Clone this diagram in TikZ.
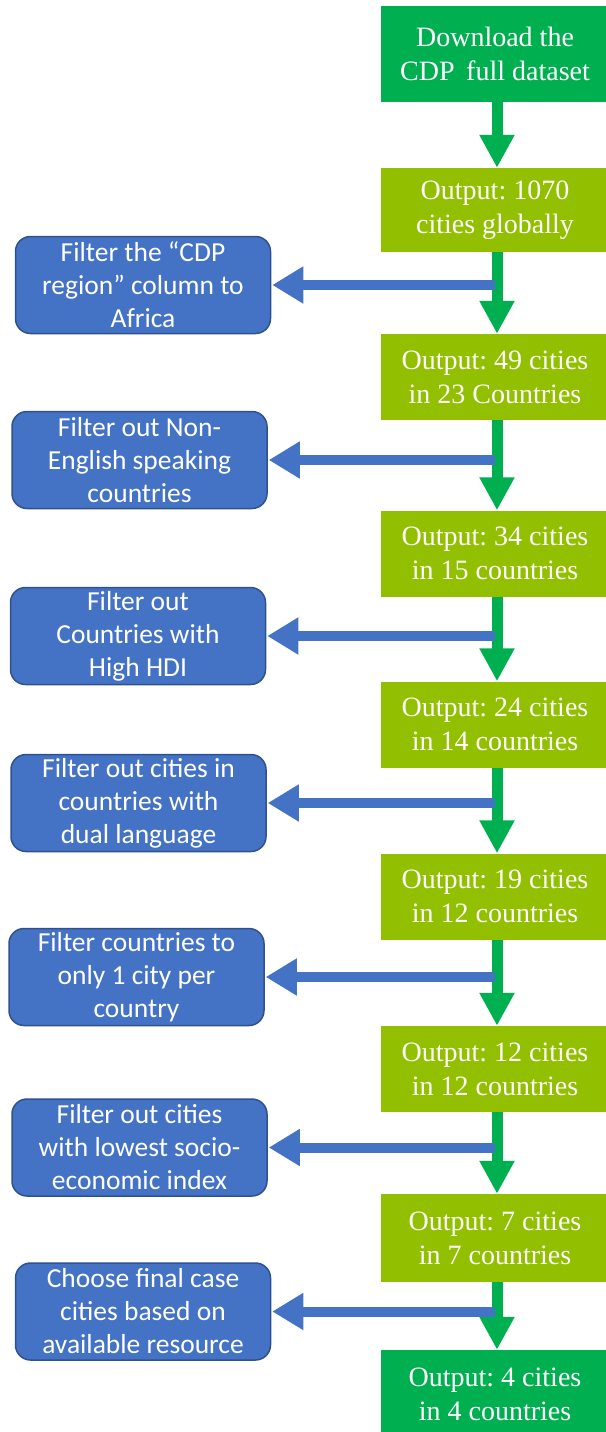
\documentclass[tikz,border=0pt]{standalone}
\usepackage{fontspec}
\setmainfont{Liberation Serif}
\newfontfamily\calib{Carlito}
\usetikzlibrary{arrows.meta}
\frenchspacing

\definecolor{darkgreen}{HTML}{00B050}
\definecolor{limegreen}{HTML}{92C000}
\definecolor{boxblue}{HTML}{4472C4}
\definecolor{boxblueedge}{HTML}{2F528F}

\tikzset{
  outbox/.style={rectangle, fill=limegreen, text=white, inner sep=0pt,
    minimum width=228pt, minimum height=86pt, align=center,
    font=\fontsize{28}{34}\selectfont},
  endbox/.style={outbox, fill=darkgreen},
  filterbox/.style={rectangle, rounded corners=15pt, fill=boxblue,
    draw=boxblueedge, line width=1.5pt, text=white, inner sep=0pt,
    minimum width=255pt, minimum height=97pt, align=center,
    font=\calib\fontsize{27.5}{33}\selectfont},
  flowarrow/.style={draw=darkgreen, line width=11pt,
    -{Triangle[length=33pt,width=33pt,fill=darkgreen]}},
  sidearrow/.style={draw=boxblue, line width=10pt,
    -{Triangle[length=31pt,width=35pt,fill=boxblue]}}
}

\begin{document}
\begin{tikzpicture}[x=1pt,y=1pt]
  \useasboundingbox (0,0) rectangle (605,-1432);

  % main column of steps
  \node[endbox, minimum height=96pt] (g1) at (495,-54) {Download the\\CDP\, full dataset};
  \node[outbox, minimum height=84pt] (g2) at (495,-210) {Output: 1070\\cities globally};
  \node[outbox] (g3) at (495,-377) {Output: 49 cities\\in 23 Countries};
  \node[outbox] (g4) at (495,-553.5) {Output: 34 cities\\in 15 countries};
  \node[outbox] (g5) at (495,-724.5) {Output: 24 cities\\in 14 countries};
  \node[outbox] (g6) at (495,-896.5) {Output: 19 cities\\in 12 countries};
  \node[outbox] (g7) at (495,-1069) {Output: 12 cities\\in 12 countries};
  \node[outbox, minimum height=88pt] (g8) at (495,-1238) {Output: 7 cities\\in 7 countries};
  \node[endbox, minimum height=88pt] (g9) at (495,-1394) {Output: 4 cities\\in 4 countries};

  % filter steps on the left
  \node[filterbox] (b1) at (143,-285) {Filter the “CDP\\region” column to\\Africa};
  \node[filterbox] (b2) at (139.5,-460) {Filter out Non-\\English speaking\\countries};
  \node[filterbox] (b3) at (138,-636) {Filter out\\Countries with\\High HDI};
  \node[filterbox] (b4) at (138.5,-803) {Filter out cities in\\countries with\\dual language};
  \node[filterbox] (b5) at (136.5,-977) {Filter countries to\\only 1 city per\\country};
  \node[filterbox] (b6) at (139.5,-1147.5) {Filter out cities\\with lowest socio-\\economic index};
  \node[filterbox] (b7) at (143,-1311.5) {Choose final case\\cities based on\\available resource};

  % x position where the side arrows branch off
  \coordinate (branch) at (495,0);

  % downward flow
  \foreach \a/\b in {g1/g2,g2/g3,g3/g4,g4/g5,g5/g6,g6/g7,g7/g8,g8/g9}
    \draw[flowarrow] ([xshift=2pt]\a.south) -- ([xshift=2pt]\b.north);

  % side branches to the filter steps
  \foreach \b in {b1,b2,b3,b4,b5,b6,b7}
    \draw[sidearrow] (\b.east -| branch) -- ([xshift=1pt]\b.east);
\end{tikzpicture}
\end{document}
